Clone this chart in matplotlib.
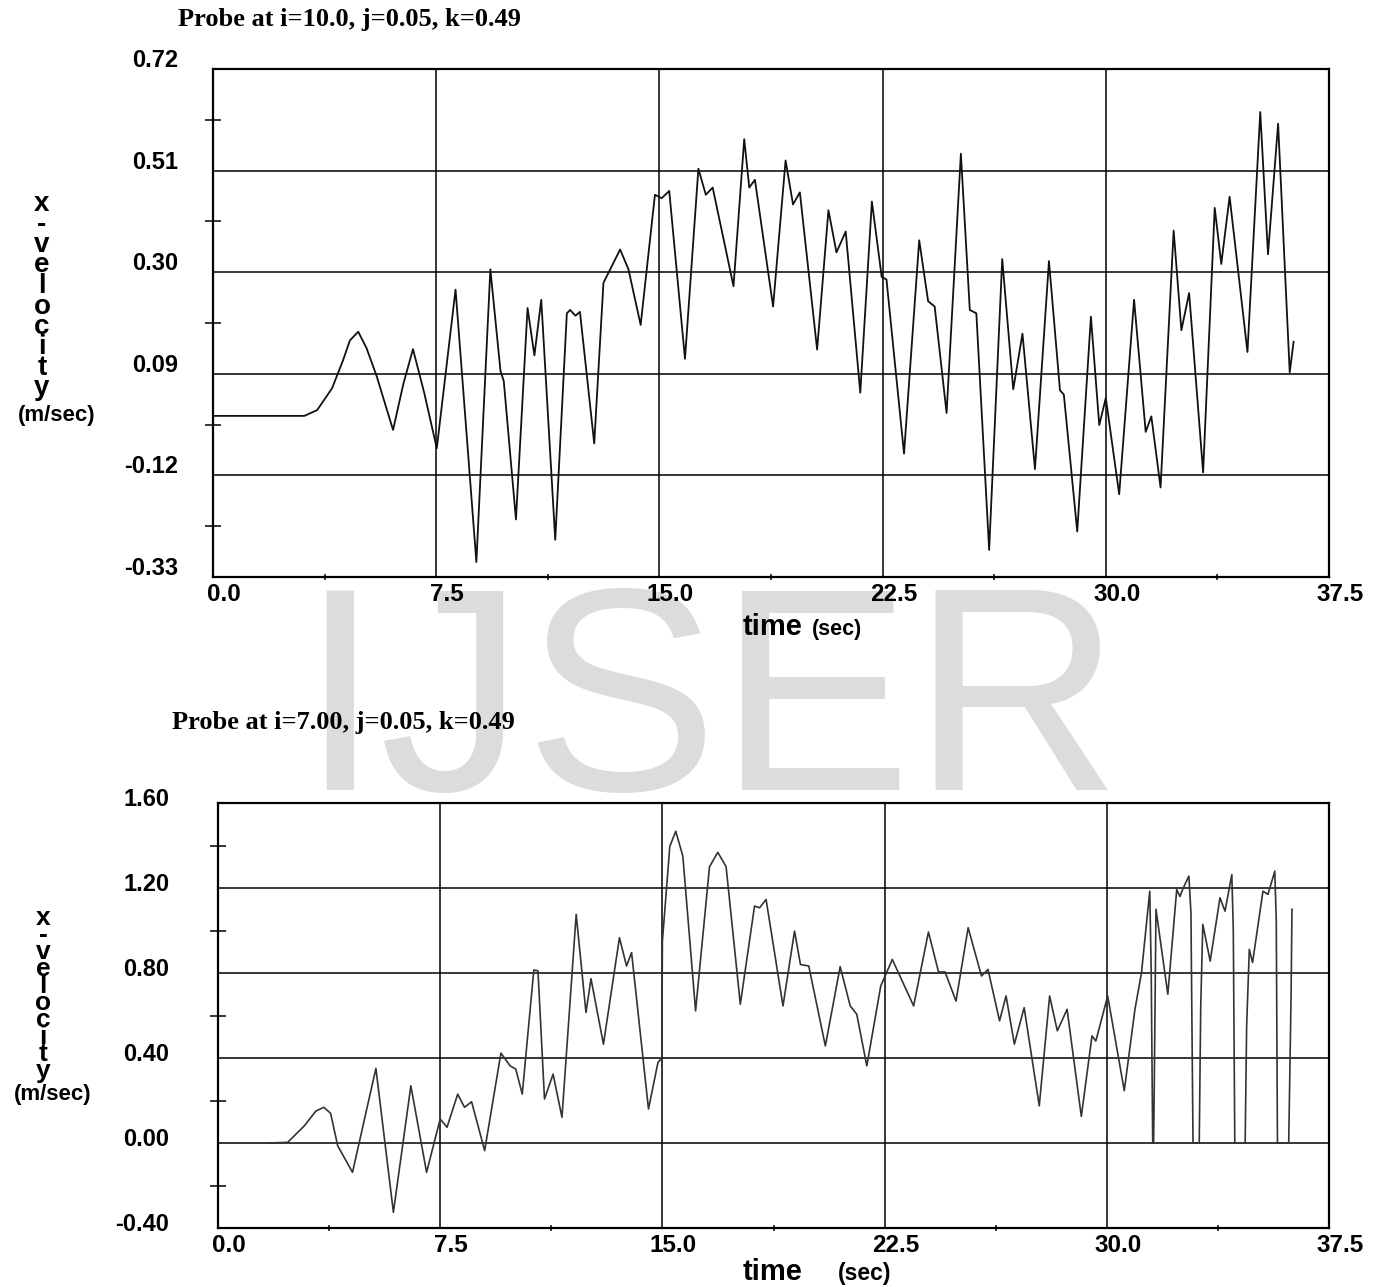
import numpy as np
import matplotlib
matplotlib.use('Agg')
import matplotlib.pyplot as plt
import matplotlib.transforms as mtransforms

plt.rcParams['font.family'] = ['Liberation Sans', 'DejaVu Sans']

# ---- data (peaks, troughs, shoulders) ----
t_top = [0.0, 3.07, 3.5, 4.0, 4.37, 4.6, 4.88, 5.16, 5.5, 6.05, 6.4, 6.72, 7.1, 7.52,
         8.15, 8.85, 9.32, 9.66, 9.77, 10.18, 10.57, 10.80, 11.03, 11.50, 11.89, 12.0,
         12.18, 12.33, 12.81, 13.12, 13.68, 13.96, 14.37, 14.85, 15.08, 15.33, 15.86,
         16.31, 16.56, 16.79, 17.49, 17.85, 18.02, 18.21, 18.82, 19.24, 19.49, 19.72,
         20.30, 20.68, 20.95, 21.26, 21.75, 22.14, 22.47, 22.63, 23.22, 23.73, 24.03,
         24.25, 24.65, 25.13, 25.43, 25.65, 26.08, 26.52, 26.89, 27.20, 27.62, 28.09,
         28.46, 28.59, 29.04, 29.50, 29.78, 30.0, 30.45, 30.95, 31.34, 31.53, 31.84,
         32.28, 32.54, 32.80, 33.27, 33.66, 33.88, 34.16, 34.76, 35.19, 35.45, 35.79,
         36.18, 36.31]
v_top = [0.003, 0.003, 0.015, 0.06, 0.118, 0.159, 0.177, 0.143, 0.085, -0.026, 0.07, 0.141, 0.05, -0.064,
         0.264, -0.299, 0.306, 0.096, 0.075, -0.211, 0.226, 0.128, 0.243, -0.253, 0.215, 0.222,
         0.21, 0.218, -0.054, 0.278, 0.347, 0.306, 0.191, 0.46, 0.453, 0.468, 0.121,
         0.514, 0.46, 0.475, 0.271, 0.575, 0.475, 0.491, 0.229, 0.531, 0.44, 0.465,
         0.140, 0.428, 0.341, 0.384, 0.051, 0.446, 0.29, 0.285, -0.075, 0.366, 0.24,
         0.229, 0.009, 0.545, 0.222, 0.215, -0.274, 0.327, 0.058, 0.173, -0.107, 0.323,
         0.056, 0.047, -0.236, 0.208, -0.016, 0.040, -0.159, 0.243, -0.03, 0.002, -0.145,
         0.386, 0.180, 0.257, -0.114, 0.433, 0.317, 0.456, 0.135, 0.631, 0.337, 0.607,
         0.093, 0.156]

t_bot = [1.68, 2.35, 2.91, 3.30, 3.57, 3.80, 4.04, 4.54, 5.33, 5.92, 6.51, 7.04, 7.50, 7.73, 8.09,
         8.32, 8.56, 9.0, 9.55, 9.86, 10.05, 10.27, 10.66, 10.80, 11.02, 11.31, 11.61,
         12.09, 12.42, 12.59, 13.01, 13.55, 13.79, 13.96, 14.53, 14.85, 14.98, 15.0,
         15.25, 15.45, 15.69, 16.12, 16.59, 16.87, 17.15, 17.63, 18.11, 18.28, 18.50, 19.07,
         19.46, 19.66, 19.94, 20.50, 21.0, 21.34, 21.56, 21.90, 22.37, 22.76, 23.48, 23.98,
         24.32, 24.54, 24.91, 25.32, 25.77, 25.99, 26.38, 26.60, 26.88, 27.21, 27.72, 28.07,
         28.33, 28.66, 29.14, 29.50, 29.63, 30.03, 30.59, 30.95, 31.17, 31.45, 31.50,
         31.53, 31.55, 31.58, 31.60, 31.66, 32.06, 32.36, 32.47, 32.58, 32.77, 32.84,
         32.91, 33.12, 33.17, 33.24, 33.49, 33.82, 33.99, 34.22, 34.27, 34.32, 34.67,
         34.72, 34.81, 34.92, 35.27, 35.44, 35.67, 35.72, 35.76, 36.14, 36.22, 36.25]
v_bot = [0.0, 0.003, 0.08, 0.15, 0.168, 0.14, -0.013, -0.138, 0.351, -0.326, 0.269, -0.138, 0.113, 0.074, 0.230,
         0.168, 0.194, -0.036, 0.423, 0.363, 0.348, 0.230, 0.814, 0.81, 0.207, 0.324, 0.121,
         1.076, 0.614, 0.773, 0.465, 0.966, 0.833, 0.896, 0.16, 0.379, 0.40, 0.95,
         1.396, 1.467, 1.35, 0.622, 1.30, 1.368, 1.30, 0.653, 1.115, 1.107, 1.146, 0.645,
         0.997, 0.84, 0.833, 0.457, 0.830, 0.645, 0.606, 0.363, 0.739, 0.864, 0.645, 0.993,
         0.805, 0.805, 0.668, 1.013, 0.786, 0.817, 0.575, 0.692, 0.465, 0.637, 0.175, 0.692,
         0.528, 0.629, 0.125, 0.504, 0.48, 0.692, 0.246, 0.629, 0.80, 1.185, 0.80,
         0.30, 0.0, 0.0, 0.24, 1.10, 0.70, 1.193, 1.16, 1.20, 1.256, 1.085,
         0.0, 0.0, 0.64, 1.029, 0.856, 1.154, 1.091, 1.263, 1.0, 0.0, 0.0,
         0.55, 0.911, 0.849, 1.185, 1.17, 1.279, 1.05, 0.0, 0.0, 0.692, 1.10]

x_ticks = [0.0, 7.5, 15.0, 22.5, 30.0, 37.5]
x_labels = ['0.0', '7.5', '15.0', '22.5', '30.0', '37.5']
x_minor = [3.75, 11.25, 18.75, 26.25, 33.75]

y_top_ticks = [-0.33, -0.12, 0.09, 0.30, 0.51, 0.72]
y_top_labels = ['-0.33', '-0.12', '0.09', '0.30', '0.51', '0.72']
y_top_minor = [-0.225, -0.015, 0.195, 0.405, 0.615]

y_bot_ticks = [-0.40, 0.00, 0.40, 0.80, 1.20, 1.60]
y_bot_labels = ['-0.40', '0.00', '0.40', '0.80', '1.20', '1.60']
y_bot_minor = [-0.20, 0.20, 0.60, 1.00, 1.40]

W, H = 1377, 1287
fig = plt.figure(figsize=(W / 100, H / 100), dpi=100)
fig.patch.set_facecolor('white')


def shift(dx_px, dy_px):
    return mtransforms.ScaledTranslation(dx_px / 100, dy_px / 100, fig.dpi_scale_trans)


def setup_axes(ax, yticks, ylabels, yminor, ylim, ypad, ylab_dy):
    ax.set_xlim(0, 37.5)
    ax.set_ylim(*ylim)
    ax.set_xticks(x_ticks, x_labels)
    ax.set_xticks(x_minor, minor=True)
    ax.set_yticks(yticks, ylabels)
    ax.set_yticks(yminor, minor=True)
    ax.grid(True, which='major', color='black', linewidth=1.1)
    ax.tick_params(which='major', length=0)
    ax.tick_params(axis='y', which='major', pad=ypad, labelsize=17)
    ax.tick_params(axis='x', which='major', pad=4, labelsize=17.5)
    ax.tick_params(axis='y', which='minor', direction='inout', length=11, width=1.1)
    ax.tick_params(axis='x', which='minor', direction='inout', length=5, width=1.1)
    for s in ax.spines.values():
        s.set_linewidth(1.6)
    for lab in ax.get_yticklabels():
        lab.set_fontweight('bold')
        lab.set_transform(lab.get_transform() + shift(0, ylab_dy))
    for lab in ax.get_xticklabels():
        lab.set_fontweight('bold')
        lab.set_transform(lab.get_transform() + shift(11, 0))


# top panel
ax1 = fig.add_axes([213 / W, 1 - 577 / H, (1329 - 213) / W, (577 - 69) / H])
ax1.plot(t_top, v_top, color='#111111', linewidth=1.3)
setup_axes(ax1, y_top_ticks, y_top_labels, y_top_minor, (-0.33, 0.72), 25, 11)

# bottom panel
ax2 = fig.add_axes([218 / W, 1 - 1228 / H, (1329 - 218) / W, (1228 - 803) / H])
ax2.plot(t_bot, v_bot, color='#333333', linewidth=1.2)
setup_axes(ax2, y_bot_ticks, y_bot_labels, y_bot_minor, (-0.40, 1.60), 35, 6)

# titles
title_font = dict(family=['Liberation Serif', 'DejaVu Serif'], fontweight='bold', fontsize=19)
fig.text(178 / W, 1 - 26 / H, 'Probe at i=10.0, j=0.05, k=0.49', va='baseline', **title_font)
fig.text(172 / W, 1 - 729 / H, 'Probe at i=7.00, j=0.05, k=0.49', va='baseline', **title_font)

# x-axis titles
fig.text(743 / W, 1 - 635 / H, 'time', fontsize=21, fontweight='bold', va='baseline')
fig.text(812 / W, 1 - 635 / H, '(sec)', fontsize=15.5, fontweight='bold', va='baseline')
fig.text(743 / W, 1 - 1280 / H, 'time', fontsize=21, fontweight='bold', va='baseline')
fig.text(838 / W, 1 - 1280 / H, '(sec)', fontsize=16.5, fontweight='bold', va='baseline')

# stacked y-axis labels
word = ['x', '-', 'v', 'e', 'l', 'o', 'c', 'i', 't', 'y']
for i, ch in enumerate(word):
    fig.text(42 / W, 1 - (211 + 20.5 * i) / H, ch, fontsize=20, fontweight='bold',
             ha='center', va='baseline')
    fig.text(43 / W, 1 - (925 + 17 * i) / H, ch, fontsize=19, fontweight='bold',
             ha='center', va='baseline')
fig.text(57 / W, 1 - 421 / H, '(m/sec)', fontsize=16, fontweight='bold', ha='center', va='baseline')
fig.text(53 / W, 1 - 1100 / H, '(m/sec)', fontsize=16, fontweight='bold', ha='center', va='baseline')

# watermark
fig.text(299 / W, 1 - 790 / H, 'IJSER', fontsize=209, color='#dcdcdc',
         ha='left', va='baseline', zorder=-5)

fig.savefig('out.png', dpi=100, facecolor='white')
